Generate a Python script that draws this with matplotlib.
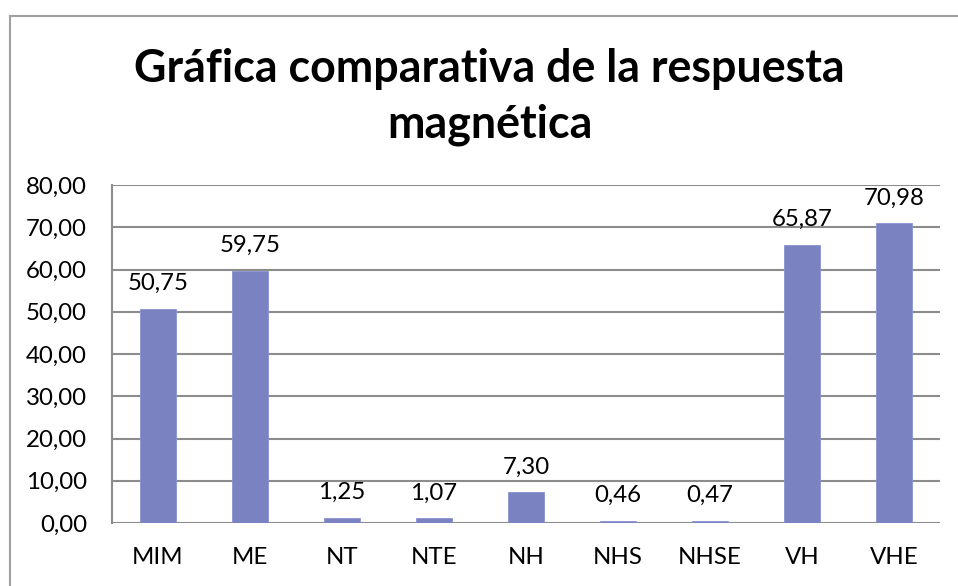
import matplotlib

matplotlib.use("Agg")

import matplotlib.pyplot as plt
from matplotlib.lines import Line2D
from matplotlib.ticker import FuncFormatter

CATEGORIES = ["MIM", "ME", "NT", "NTE", "NH", "NHS", "NHSE", "VH", "VHE"]
VALUES = [50.75, 59.75, 1.25, 1.07, 7.30, 0.46, 0.47, 65.87, 70.98]
Y_TICKS = [0, 10, 20, 30, 40, 50, 60, 70, 80]
TITLE = "Gráfica comparativa de la respuesta\nmagnética"

BAR_COLOR = "#7B82C1"
GRID_COLOR = "#8C8C8C"

plt.rcParams["font.family"] = ["Lato", "DejaVu Sans"]


def comma(v, _pos=None):
    return f"{v:.2f}".replace(".", ",")


W, H = 958, 586
fig = plt.figure(figsize=(W / 100, H / 100), dpi=100)

ax = fig.add_axes([112 / W, 1 - 523 / H, (940 - 112) / W, (523 - 185) / H])
x = range(len(CATEGORIES))
ax.bar(x, VALUES, width=0.39, color=BAR_COLOR, edgecolor="#8A92D0", linewidth=0.6, zorder=3)

for xi, v in zip(x, VALUES):
    ax.annotate(comma(v), (xi, v), xytext=(0, 13.5), textcoords="offset points",
                ha="center", va="baseline", fontsize=17.3, color="black")

ax.set_xlim(-0.5, len(CATEGORIES) - 0.5)
ax.set_ylim(0, 80)
ax.set_yticks(Y_TICKS)
ax.yaxis.set_major_formatter(FuncFormatter(comma))
ax.set_xticks(list(x))
ax.set_xticklabels(CATEGORIES)
ax.tick_params(axis="both", length=0, labelsize=17.3, colors="black")
ax.tick_params(axis="y", pad=18)
ax.tick_params(axis="x", pad=17)
ax.grid(axis="y", color=GRID_COLOR, linewidth=1.5, zorder=0)
for side in ["top", "right", "bottom"]:
    ax.spines[side].set_visible(False)
ax.spines["left"].set_color(GRID_COLOR)
ax.spines["left"].set_linewidth(1.5)

fig.text(489.5 / W, 1 - 137 / H, TITLE, ha="center", va="baseline",
         fontsize=32.2, fontweight="bold", linespacing=1.39)

# chart border (right and bottom fall outside the image)
x0, y0 = 9.5 / W, 1 - 15.5 / H
fig.add_artist(Line2D([x0, x0], [0, y0], color="#A0A0A0", linewidth=1.5))
fig.add_artist(Line2D([x0, 1], [y0, y0], color="#A0A0A0", linewidth=1.5))

fig.savefig("out.png", dpi=100)
